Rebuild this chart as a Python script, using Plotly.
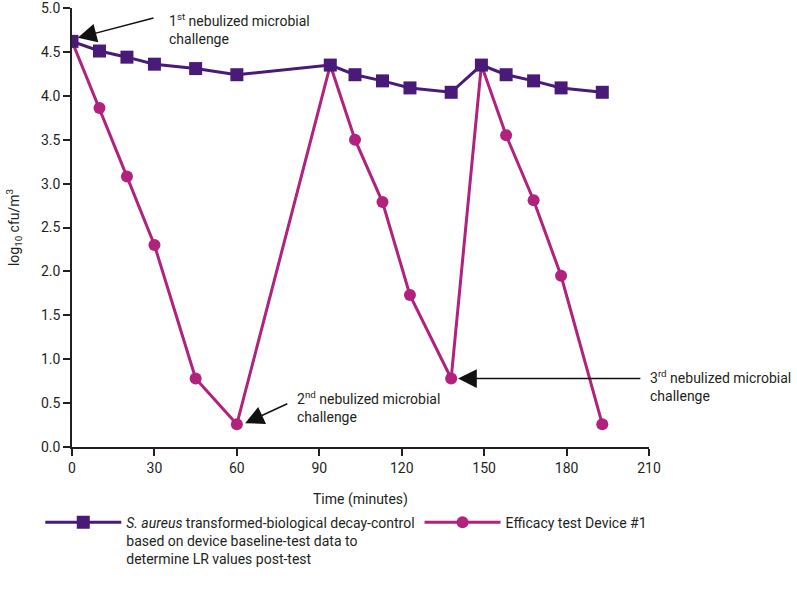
import plotly.graph_objects as go

# Data
control_time = [0, 10, 20, 30, 45, 60, 94, 103, 113, 123, 138, 149, 158, 168, 178, 193]
control_vals = [4.62, 4.51, 4.44, 4.36, 4.31, 4.24, 4.35, 4.24, 4.17, 4.09, 4.04,
                4.35, 4.24, 4.17, 4.09, 4.04]
device_time = [0, 10, 20, 30, 45, 60, 94, 103, 113, 123, 138, 149, 158, 168, 178, 193]
device_vals = [4.62, 3.86, 3.08, 2.30, 0.78, 0.26, 4.35, 3.50, 2.79, 1.73, 0.78,
               4.35, 3.55, 2.81, 1.95, 0.26]
x_ticks = [0, 30, 60, 90, 120, 150, 180, 210]
y_ticks = [0.0, 0.5, 1.0, 1.5, 2.0, 2.5, 3.0, 3.5, 4.0, 4.5, 5.0]

PURPLE = "#4A1A78"
MAGENTA = "#B0227E"
TXT = "#231F20"
FONT = "Roboto, Arial, sans-serif"
FS = 14

fig = go.Figure()
fig.add_trace(go.Scatter(
    x=device_time, y=device_vals, mode="lines+markers",
    name="Efficacy test Device #1",
    line=dict(color=MAGENTA, width=3),
    marker=dict(symbol="circle", size=12, color=MAGENTA),
    legendrank=2,
))
fig.add_trace(go.Scatter(
    x=control_time, y=control_vals, mode="lines+markers",
    name="<i>S. aureus</i> transformed-biological decay-control<br>based on device baseline-test data to<br>determine LR values post-test",
    line=dict(color=PURPLE, width=3),
    marker=dict(symbol="square", size=13, color=PURPLE),
    legendrank=1,
))

# Arrows
arrows = [
    dict(x=2.1, y=4.66, ax=30.2, ay=4.89),
    dict(x=63.0, y=0.27, ax=78.9, ay=0.50),
    dict(x=140.5, y=0.78, ax=207.4, ay=0.78),
]
for a in arrows:
    fig.add_annotation(x=a["x"], y=a["y"], ax=a["ax"], ay=a["ay"],
                       xref="x", yref="y", axref="x", ayref="y",
                       text="", showarrow=True, arrowhead=2, arrowsize=2.5,
                       arrowwidth=1.5, arrowcolor="#111111")

labels = [
    dict(x=34.5, y=4.76, t="1<sup>st</sup> nebulized microbial<br>challenge"),
    dict(x=81.1, y=0.46, t="2<sup>nd</sup> nebulized microbial<br>challenge"),
    dict(x=209.7, y=0.69, t="3<sup>rd</sup> nebulized microbial<br>challenge"),
]
for l in labels:
    fig.add_annotation(x=l["x"], y=l["y"], xref="x", yref="y", text=l["t"],
                       showarrow=False, xanchor="left", yanchor="middle",
                       align="left", font=dict(size=FS, color=TXT, family=FONT))

fig.update_xaxes(
    range=[0, 210], tickvals=x_ticks, showline=True, linecolor=TXT,
    linewidth=1.5, ticks="outside", ticklen=7, tickwidth=1.5, tickcolor=TXT,
    showgrid=False, zeroline=False, mirror=False, automargin=False,
    tickfont=dict(size=FS, color=TXT, family=FONT), ticklabeloverflow="allow",
    title=dict(text="Time (minutes)", font=dict(size=FS, color=TXT, family=FONT), standoff=20),
)
fig.update_yaxes(
    range=[0, 5.0], tickvals=y_ticks, tickformat=".1f", showline=True,
    linecolor=TXT, linewidth=1.5, ticks="outside", ticklen=7, tickwidth=1.5,
    tickcolor=TXT, showgrid=False, zeroline=False, mirror=False, automargin=False,
    tickfont=dict(size=FS, color=TXT, family=FONT), ticklabeloverflow="allow",
    title=dict(text="log<sub>10</sub> cfu/m<sup>3</sup>", font=dict(size=FS, color=TXT, family=FONT), standoff=18),
)

fig.update_layout(
    width=797, height=599,
    margin=dict(l=72, r=148, t=8, b=152),
    plot_bgcolor="white", paper_bgcolor="white",
    font=dict(family=FONT, size=FS, color=TXT),
    showlegend=True,
    legend=dict(orientation="h", x=-0.055, y=-0.136, xanchor="left", yanchor="top",
                valign="top", font=dict(size=FS, family=FONT, color=TXT),
                itemwidth=76, tracegroupgap=0, traceorder="normal"),
)

fig.write_html("out.html", post_script="document.body.style.margin='0';",
               config={"displayModeBar": False})
